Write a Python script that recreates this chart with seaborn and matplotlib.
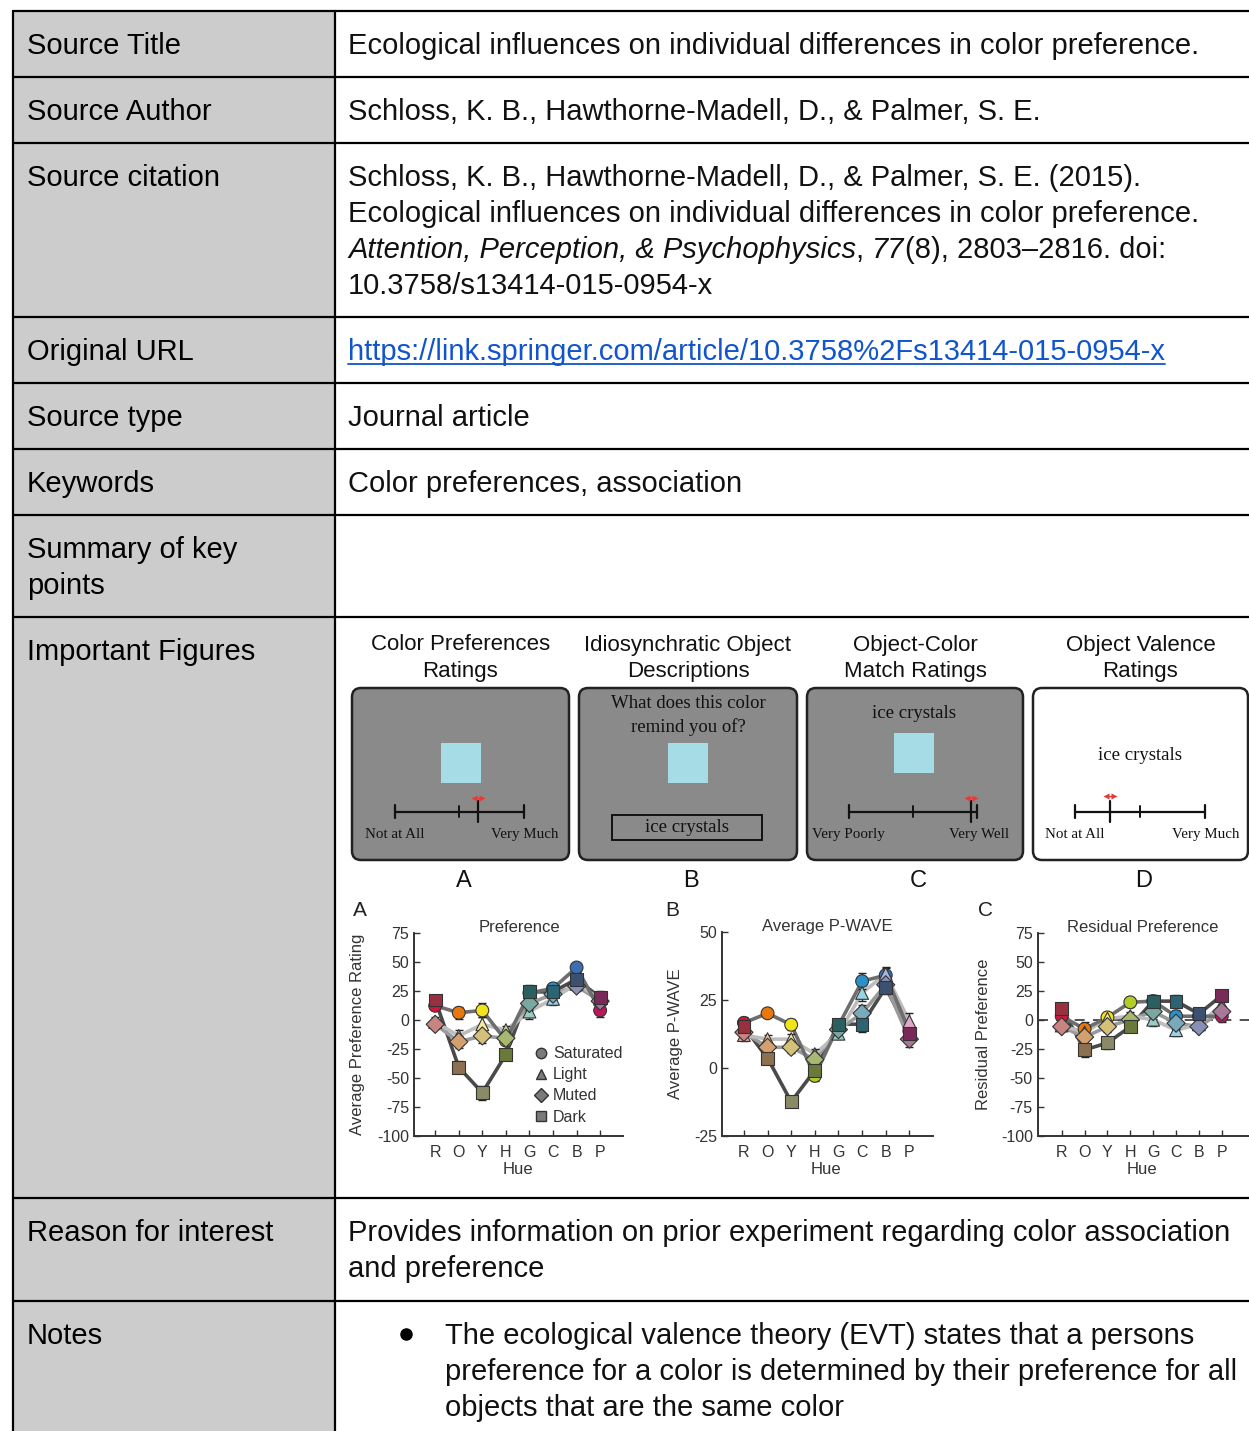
import numpy as np
import pandas as pd
import matplotlib
matplotlib.use("Agg")
import matplotlib.pyplot as plt
import seaborn as sns
from matplotlib.patches import Rectangle, FancyBboxPatch
from matplotlib.lines import Line2D

# ---- data ----
hues = ["R", "O", "Y", "H", "G", "C", "B", "P"]
series = ["Saturated", "Light", "Muted", "Dark"]

pref_saturated = [12, 6, 8, -18, 23, 27, 45, 8]
pref_light = [-2, -14, -4, -9, 7, 18, 31, 18]
pref_muted = [-4, -19, -14, -16, 14, 22, 29, 16]
pref_dark = [17, -41, -63, -30, 24, 24, 35, 19]
pref_err = [4, 5, 6, 4, 6, 5, 4, 6]

wave_saturated = [16.5, 20, 15.8, -3, 15.5, 31.8, 34, 13.5]
wave_light = [12, 10.5, 10.5, 5, 12.5, 27.5, 34.5, 17]
wave_muted = [13, 7.5, 7.5, 3, 14, 20, 30.5, 10.5]
wave_dark = [15, 3.5, -12.5, -1, 16, 16, 29.5, 12.5]
wave_err = [2, 1.5, 2, 2, 2, 3, 2.5, 3]

resid_saturated = [3, -8, 2, 15, 16, 3, 3, 3]
resid_light = [-5, -11, 1, 3, 0, -9, -4, 13]
resid_muted = [-6, -15, -6, 0, 7, -3, -6, 7]
resid_dark = [10, -26, -20, -6, 16, 16, 5, 21]
resid_err = [4, 6, 5, 4, 5, 5, 4, 5]

sat_colors = ["#d4143c", "#e8780c", "#f2e418", "#b4cc28", "#2e7e7a", "#2a90c8", "#3c6eb4", "#c4145a"]
light_colors = ["#e8a0a0", "#f4c49a", "#f4eaa0", "#d0dc98", "#98ccc4", "#98d4e4", "#a8b4dc", "#e0a8c8"]
muted_colors = ["#c88480", "#d4a070", "#d4c078", "#a8b870", "#78a8a0", "#78aabc", "#8890b8", "#a87898"]
dark_colors = ["#983040", "#8c7050", "#8a8a66", "#6a7a3a", "#2c6060", "#2c6474", "#3c5070", "#7a2a58"]

line_gray = {"Saturated": "#6e6e6e", "Light": "#bdbdbd", "Muted": "#9a9a9a", "Dark": "#4a4a4a"}
series_markers = {"Saturated": "o", "Light": "^", "Muted": "D", "Dark": "s"}
fill_by_series = {"Saturated": sat_colors, "Light": light_colors, "Muted": muted_colors, "Dark": dark_colors}

sns.set_style("ticks")
plt.rcParams["font.family"] = ["Liberation Sans", "DejaVu Sans"]
plt.rcParams["axes.unicode_minus"] = False

W, H = 1249, 1431
fig = plt.figure(figsize=(W / 100, H / 100), dpi=100)
bg = fig.add_axes([0, 0, 1, 1])
bg.set_xlim(0, W)
bg.set_ylim(H, 0)
bg.axis("off")
rend = fig.canvas.get_renderer()

# ---- table grid ----
row_tops = [11, 77, 143, 317, 383, 449, 515, 617, 1198, 1301]
bg.add_patch(Rectangle((13, 11), 322, H - 11, fc="#cccccc", ec="none", zorder=0))
for y in row_tops:
    bg.plot([13, W], [y, y], color="black", lw=1.6, zorder=1)
bg.plot([13, 13], [11, H], color="black", lw=1.6, zorder=1)
bg.plot([335, 335], [11, H], color="black", lw=1.6, zorder=1)

FS = 21
BASE = 43
left_labels = [["Source Title"], ["Source Author"], ["Source citation"], ["Original URL"],
               ["Source type"], ["Keywords"], ["Summary of key", "points"],
               ["Important Figures"], ["Reason for interest"], ["Notes"]]
for top, lines in zip(row_tops, left_labels):
    for k, line in enumerate(lines):
        bg.text(27, top + BASE + 36 * k, line, fontsize=FS, va="baseline", color="black")


def run_width(txt, style):
    a = bg.text(0, 0, "|" + txt + "|", fontsize=FS, style=style)
    b = bg.text(0, 0, "||", fontsize=FS, style=style)
    w = a.get_window_extent(rend).width - b.get_window_extent(rend).width
    a.remove()
    b.remove()
    return w


def put_runs(x, y, parts, color="#111111"):
    for txt, style in parts:
        bg.text(x, y, txt, fontsize=FS, style=style, va="baseline", color=color)
        x += run_width(txt, style)
    return x


right_text = {
    11: ["Ecological influences on individual differences in color preference."],
    77: ["Schloss, K. B., Hawthorne-Madell, D., & Palmer, S. E."],
    383: ["Journal article"],
    449: ["Color preferences, association"],
    1198: ["Provides information on prior experiment regarding color association",
           "and preference"],
}
for top, lines in right_text.items():
    for k, line in enumerate(lines):
        bg.text(348, top + BASE + 36 * k, line, fontsize=FS, va="baseline", color="#111111")

cit = 143 + BASE
put_runs(348, cit, [("Schloss, K. B., Hawthorne-Madell, D., & Palmer, S. E. (2015).", "normal")])
put_runs(348, cit + 36, [("Ecological influences on individual differences in color preference.", "normal")])
put_runs(348, cit + 72, [("Attention, Perception, & Psychophysics", "italic"), (", ", "normal"),
                         ("77", "italic"), ("(8), 2803\u20132816. doi:", "normal")])
put_runs(348, cit + 108, [("10.3758/s13414-015-0954-x", "normal")])

url = "https://link.springer.com/article/10.3758%2Fs13414-015-0954-x"
uw = run_width(url, "normal")
bg.text(348, 317 + BASE, url, fontsize=FS, va="baseline", color="#1155cc")
bg.plot([348, 348 + uw], [317 + BASE + 4, 317 + BASE + 4], color="#1155cc", lw=1.3)

notes = ["The ecological valence theory (EVT) states that a persons",
         "preference for a color is determined by their preference for all",
         "objects that are the same color"]
bg.plot([406], [1301 + 33], marker="o", ms=8, color="black")
for k, line in enumerate(notes):
    bg.text(445, 1301 + BASE + 36 * k, line, fontsize=FS, va="baseline", color="#111111")

# ---- task illustration (upper figure) ----
serif = ["Liberation Serif", "DejaVu Serif"]
ice = "#a6dce6"
panels = [
    (352, 569, "#8a8a8a", "Color Preferences\nRatings", "A"),
    (579, 797, "#8a8a8a", "Idiosynchratic Object\nDescriptions", "B"),
    (807, 1023, "#8a8a8a", "Object-Color\nMatch Ratings", "C"),
    (1033, 1248, "white", "Object Valence\nRatings", "D"),
]
for x0, x1, fill, title, letter in panels:
    bg.add_patch(FancyBboxPatch((x0, 688), x1 - x0, 172,
                                boxstyle="round,pad=0,rounding_size=9",
                                fc=fill, ec="#222222", lw=1.8, zorder=2))
    cx = (x0 + x1) / 2
    t1, t2 = title.split("\n")
    bg.text(cx, 645, t1, fontsize=16, ha="center", va="center", color="#111111")
    bg.text(cx, 672, t2, fontsize=16, ha="center", va="center", color="#111111")
    bg.text(cx + 3, 881, letter, fontsize=17, ha="center", va="center", color="#111111")


def scale(xa, xb, mid, cursor, arrow_y):
    bg.plot([xa, xb], [812, 812], color="#111111", lw=1.6, zorder=3)
    for xt in (xa, xb):
        bg.plot([xt, xt], [805, 818], color="#111111", lw=1.6, zorder=3)
    bg.plot([mid, mid], [806, 817], color="#111111", lw=1.4, zorder=3)
    bg.plot([cursor, cursor], [801, 822], color="#111111", lw=1.6, zorder=3)
    bg.plot([cursor - 4], [arrow_y], marker="<", ms=4.5, color="#e83838", mec="none", zorder=4)
    bg.plot([cursor + 4], [arrow_y], marker=">", ms=4.5, color="#e83838", mec="none", zorder=4)
    bg.plot([cursor - 4, cursor + 4], [arrow_y, arrow_y], color="#e83838", lw=1, zorder=4)


def square(x, y):
    bg.add_patch(Rectangle((x, y), 40, 40, fc=ice, ec="none", zorder=3))


# A
square(441, 743)
scale(395, 524, 459, 478, 798)
bg.text(365, 838, "Not at All", family=serif, fontsize=10.8, va="baseline", color="#111111")
bg.text(558, 838, "Very Much", family=serif, fontsize=10.8, va="baseline", ha="right", color="#111111")
# B
bg.text(688, 704, "What does this color", family=serif, fontsize=13.5, ha="center", va="center", color="#111111")
bg.text(688, 727, "remind you of?", family=serif, fontsize=13.5, ha="center", va="center", color="#111111")
square(668, 743)
bg.add_patch(Rectangle((612, 815), 150, 25, fc="none", ec="#111111", lw=1.4, zorder=3))
bg.text(687, 827, "ice crystals", family=serif, fontsize=13.5, ha="center", va="center", color="#111111")
# C
bg.text(914, 713, "ice crystals", family=serif, fontsize=13.5, ha="center", va="center", color="#111111")
square(894, 733)
scale(849, 977, 913, 971, 798)
bg.text(812, 838, "Very Poorly", family=serif, fontsize=10.8, va="baseline", color="#111111")
bg.text(1009, 838, "Very Well", family=serif, fontsize=10.8, va="baseline", ha="right", color="#111111")
# D
bg.text(1140, 756, "ice crystals", family=serif, fontsize=13.5, ha="center", va="center", color="#111111")
scale(1075, 1205, 1140, 1110, 796)
bg.text(1045, 838, "Not at All", family=serif, fontsize=10.8, va="baseline", color="#111111")
bg.text(1239, 838, "Very Much", family=serif, fontsize=10.8, va="baseline", ha="right", color="#111111")


# ---- result charts ----
def add_axes_px(x0, x1, ytop, ybot):
    return fig.add_axes([x0 / W, 1 - ybot / H, (x1 - x0) / W, (ybot - ytop) / H])


def draw_chart(ax, values, errs, ylim, yticks, xlim, zero_line=False):
    rows = []
    for s in series:
        for i, h in enumerate(hues):
            rows.append({"pos": i, "hue": h, "series": s, "value": values[s][i],
                         "err": errs[i], "key": s + "-" + h})
    df = pd.DataFrame(rows)
    palette = {s + "-" + h: fill_by_series[s][i] for s in series for i, h in enumerate(hues)}
    if zero_line:
        ax.axhline(0, color="#333333", lw=1.2, ls=(0, (6, 5)), zorder=1, clip_on=False)
    sns.lineplot(data=df, x="pos", y="value", hue="series", palette=line_gray,
                 hue_order=series[::-1], errorbar=None, lw=2.6, legend=False, ax=ax, zorder=2)
    for s in series:
        d = df[df["series"] == s]
        ax.errorbar(d["pos"], d["value"], yerr=d["err"], fmt="none", ecolor="#222222",
                    elinewidth=1, capsize=3, capthick=1, zorder=3)
    sns.scatterplot(data=df, x="pos", y="value", hue="key", palette=palette,
                    style="series", markers=series_markers, s=85, edgecolor="#333333",
                    linewidth=0.8, legend=False, ax=ax, zorder=4)
    ax.set_xlim(*xlim)
    ax.set_ylim(*ylim)
    ax.set_yticks(yticks)
    ax.set_xticks(range(len(hues)))
    ax.set_xticklabels(hues)
    ax.set_xlabel("")
    ax.set_ylabel("")
    ax.set_facecolor("none")
    sns.despine(ax=ax)
    for sp in ("left", "bottom"):
        ax.spines[sp].set_color("#333333")
        ax.spines[sp].set_linewidth(1.4)
    ax.tick_params(direction="in", length=4, width=1, colors="#333333",
                   labelsize=11.5, labelcolor="#333333")
    ax.tick_params(axis="x", pad=7)


axA = add_axes_px(414, 623, 932.7, 1135.7)
draw_chart(axA, {"Saturated": pref_saturated, "Light": pref_light, "Muted": pref_muted, "Dark": pref_dark},
           pref_err, (-100, 75), [-100, -75, -50, -25, 0, 25, 50, 75], (-0.9, 7.97))
handles = [Line2D([], [], ls="", marker=series_markers[s], mfc="#7a7a7a", mec="#333333", ms=7.5)
           for s in series]
axA.legend(handles, series, loc="lower right", bbox_to_anchor=(1.05, 0.0), frameon=False,
           fontsize=11.5, handletextpad=0.25, labelspacing=0.38, handlelength=1.0,
           borderpad=0.2, labelcolor="#333333")

axB = add_axes_px(721.7, 933, 931.7, 1135.7)
draw_chart(axB, {"Saturated": wave_saturated, "Light": wave_light, "Muted": wave_muted, "Dark": wave_dark},
           wave_err, (-25, 50), [-25, 0, 25, 50], (-0.94, 8.0))

axC = add_axes_px(1037.7, 1249, 932.7, 1135.7)
draw_chart(axC, {"Saturated": resid_saturated, "Light": resid_light, "Muted": resid_muted, "Dark": resid_dark},
           resid_err, (-100, 75), [-100, -75, -50, -25, 0, 25, 50, 75], (-1.05, 8.19), zero_line=True)

# chart titles, letters and axis labels
for cx, lx, ylx, title, letter, ylab in [
        (519, 360, 358, "Preference", "A", "Average Preference Rating"),
        (827, 672, 676, "Average P-WAVE", "B", "Average P-WAVE"),
        (1143, 986, 984, "Residual Preference", "C", "Residual Preference")]:
    bg.text(cx, 927, title, fontsize=12, ha="center", va="center", color="#333333")
    bg.text(lx, 911, letter, fontsize=15, ha="center", va="center", color="#222222")
    bg.text(ylx, 1034, ylab, fontsize=12, rotation=90, ha="center", va="center", color="#333333")
    bg.text(cx - 1, 1170, "Hue", fontsize=12, ha="center", va="center", color="#333333")

fig.savefig("out.png", dpi=100)
